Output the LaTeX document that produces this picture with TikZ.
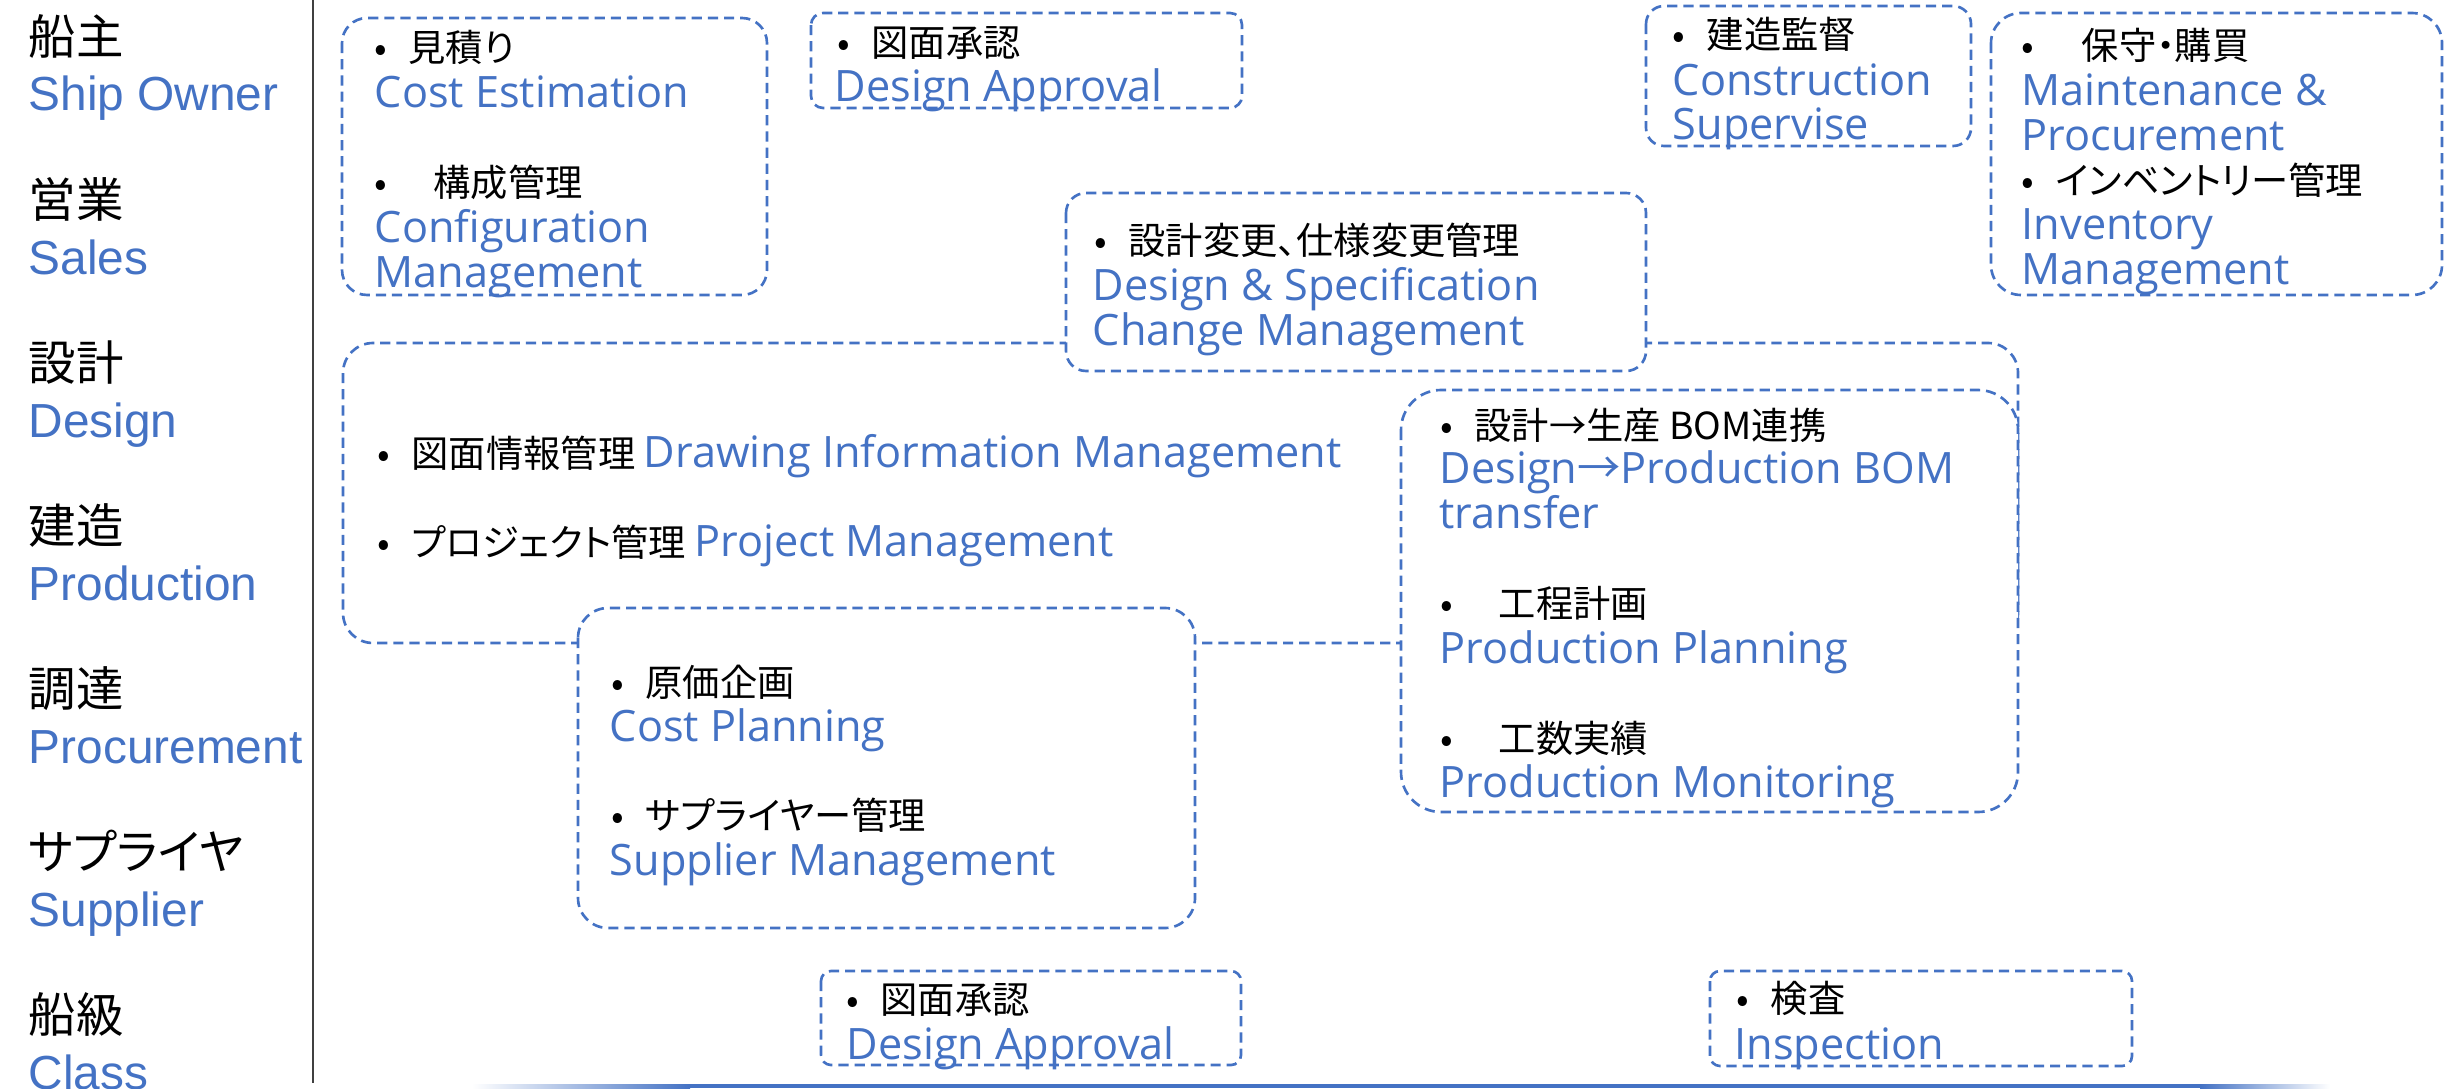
\documentclass[tikz,border=0pt]{standalone}
\usepackage{fontspec}
\setmainfont{Liberation Sans}
\newfontfamily\jpfont[RawFeature=+palt]{Noto Sans CJK JP}
\newfontfamily\enfont{Open Sans}
\usepackage{tikz}
\usetikzlibrary{calc}

\definecolor{accentblue}{HTML}{4472C4}
\definecolor{rulegray}{HTML}{404040}

\newcommand{\itembullet}[1][0.34cm]{\makebox[#1][l]{•}}
\newcommand{\enpart}[1]{{\color{accentblue}\enfont\fontsize{12.3}{14}\selectfont #1}}

\tikzset{
  dashbox/.style={draw=accentblue, line width=0.75pt, dash pattern=on 2.9pt off 1.7pt, fill=white},
  entext/.style={anchor=west, inner sep=0pt, text=accentblue, font=\enfont\fontsize{12.3}{14}\selectfont, text height=8.8pt, text depth=0pt},
  jptext/.style={anchor=west, inner sep=0pt, font=\jpfont\fontsize{10.6}{13}\selectfont, text height=8pt, text depth=0pt},
  rolejp/.style={anchor=west, inner sep=0pt, font=\jpfont\fontsize{13.5}{16}\selectfont, text height=10.26pt, text depth=0pt},
  roleen/.style={anchor=west, inner sep=0pt, text=accentblue, font=\fontsize{13.6}{16}\selectfont, text height=9.74pt, text depth=0pt},
}

\begin{document}
\begin{tikzpicture}[x=0.01cm, y=-0.01cm]
  \useasboundingbox (0,0) rectangle (2458,1088);

  % roles on the left
  \node[rolejp] (owner-jp) at (28,36) {船主};
  \node[roleen] (owner-en) at (28,93) {Ship Owner};
  \node[rolejp] (sales-jp) at (28,199) {営業};
  \node[roleen] (sales-en) at (28,257) {Sales};
  \node[rolejp] (design-jp) at (28,362) {設計};
  \node[roleen] (design-en) at (28,420) {Design};
  \node[rolejp] (prod-jp) at (28,525) {建造};
  \node[roleen] (prod-en) at (28,583) {Production};
  \node[rolejp] (proc-jp) at (28,688) {調達};
  \node[roleen] (proc-en) at (28,746) {Procurement};
  \node[rolejp] (supp-jp) at (28,851) {サプライヤ};
  \node[roleen] (supp-en) at (28,909) {Supplier};
  \node[rolejp] (class-jp) at (28,1014) {船級};
  \node[roleen] (class-en) at (28,1072) {Class};
  \draw[rulegray, line width=0.45pt] (313,0) -- (313,1083);

  % boxes (big one first, the others lie on top of it)
  \draw[dashbox, rounded corners=0.3cm] (343,343) rectangle (2018,643);
  \draw[dashbox, rounded corners=0.25cm] (342,18) rectangle (767,295);
  \draw[dashbox, rounded corners=0.12cm] (811,13) rectangle (1242,108);
  \draw[dashbox, rounded corners=0.18cm] (1646,6) rectangle (1971,146);
  \draw[dashbox, rounded corners=0.3cm] (1991,13) rectangle (2442,295);
  \draw[dashbox, rounded corners=0.2cm] (1066,193) rectangle (1646,371);
  \draw[dashbox, rounded corners=0.4cm] (1401,390) rectangle (2018,812);
  \draw[dashbox, rounded corners=0.3cm] (578,608) rectangle (1195,928);
  \draw[dashbox, rounded corners=0.1cm] (821,971) rectangle (1241,1065);
  \draw[dashbox, rounded corners=0.1cm] (1710,971) rectangle (2132,1066);

  % ship owner / sales
  \node[jptext] (est-jp) at (374,47) {\itembullet 見積り};
  \node[entext] (est-en) at (374,92) {Cost Estimation};
  \node[jptext] (conf-jp) at (374,182) {\itembullet[0.59cm]構成管理};
  \node[entext] (conf-en) at (374,227) {Configuration};
  \node[entext] (conf-en2) at (374,272) {Management};

  \node[jptext] (appr-jp) at (837,42) {\itembullet 図面承認};
  \node[entext] (appr-en) at (834,86) {Design Approval};

  \node[jptext] (super-jp) at (1672,34) {\itembullet 建造監督};
  \node[entext] (super-en) at (1672,80) {Construction};
  \node[entext] (super-en2) at (1672,124) {Supervise};

  \node[jptext] (maint-jp) at (2021,45) {\itembullet[0.6cm]保守・購買};
  \node[entext] (maint-en) at (2021,90) {Maintenance \&};
  \node[entext] (maint-en2) at (2021,135) {Procurement};
  \node[jptext] (inv-jp) at (2021,180) {\itembullet インベントリー管理};
  \node[entext] (inv-en) at (2021,224) {Inventory};
  \node[entext] (inv-en2) at (2021,269) {Management};

  % design
  \node[jptext] (chg-jp) at (1094,240) {\itembullet 設計変更、仕様変更管理};
  \node[entext] (chg-en) at (1092,285) {Design \& Specification};
  \node[entext] (chg-en2) at (1092,330) {Change Management};

  \node[jptext] (draw-info) at (377,453) {\itembullet 図面情報管理 \enpart{Drawing Information Management}};
  \node[jptext] (proj) at (377,542) {\itembullet プロジェクト管理 \enpart{Project Management}};

  % production
  \node[jptext] (bom-jp) at (1440,425) {\itembullet 設計→生産 BOM連携};
  \node[entext] (bom-en) at (1439,468) {Design{\jpfont →}Production BOM};
  \node[entext] (bom-en2) at (1439,513) {transfer};
  \node[jptext] (plan-jp) at (1440,603) {\itembullet[0.58cm]工程計画};
  \node[entext] (plan-en) at (1439,648) {Production Planning};
  \node[jptext] (mon-jp) at (1440,738) {\itembullet[0.58cm]工数実績};
  \node[entext] (mon-en) at (1439,782) {Production Monitoring};

  % procurement / supplier
  \node[jptext] (cost-jp) at (611,682) {\itembullet 原価企画};
  \node[entext] (cost-en) at (609,726) {Cost Planning};
  \node[jptext] (sup-jp) at (611,815) {\itembullet サプライヤー管理};
  \node[entext] (sup-en) at (609,860) {Supplier Management};

  % class
  \node[jptext] (cls-appr-jp) at (846,999) {\itembullet 図面承認};
  \node[entext] (cls-appr-en) at (846,1044) {Design Approval};
  \node[jptext] (insp-jp) at (1736,998) {\itembullet 検査};
  \node[entext] (insp-en) at (1734,1044) {Inspection};

  % bottom rule, fading out at both ends
  \shade[left color=white, right color=accentblue] (472,1084) rectangle (690,1088);
  \fill[accentblue] (690,1084) rectangle (2200,1088);
  \shade[left color=accentblue, right color=white] (2200,1084) rectangle (2330,1088);
\end{tikzpicture}
\end{document}
